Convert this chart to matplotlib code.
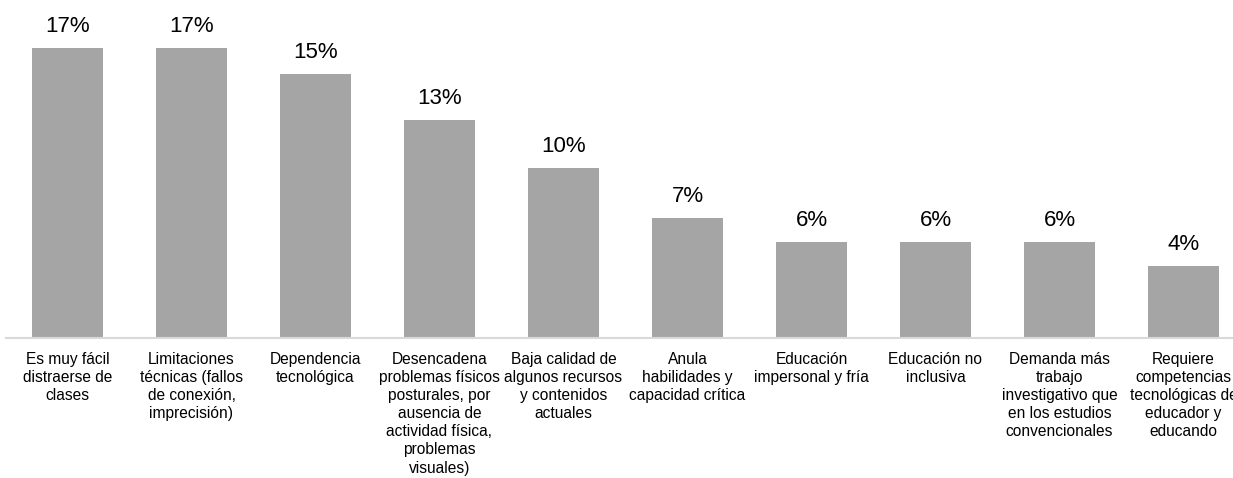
import matplotlib
matplotlib.use('Agg')
import matplotlib.pyplot as plt

plt.rcParams['font.family'] = ['Liberation Sans', 'DejaVu Sans']

# Categorías (texto con los saltos de línea del original)
categorias = [
    "Es muy fácil\ndistraerse de\nclases",
    "Limitaciones\ntécnicas (fallos\nde conexión,\nimprecisión)",
    "Dependencia\ntecnológica",
    "Desencadena\nproblemas físicos\nposturales, por\nausencia de\nactividad física,\nproblemas\nvisuales)",
    "Baja calidad de\nalgunos recursos\ny contenidos\nactuales",
    "Anula\nhabilidades y\ncapacidad crítica",
    "Educación\nimpersonal y fría",
    "Educación no\ninclusiva",
    "Demanda más\ntrabajo\ninvestigativo que\nen los estudios\nconvencionales",
    "Requiere\ncompetencias\ntecnológicas de\neducador y\neducando",
]
# Porcentajes estimados a partir de la altura de las barras
porcentajes = [16.9, 16.9, 15.4, 12.7, 9.9, 7.0, 5.6, 5.6, 5.6, 4.2]

fig = plt.figure(figsize=(12.33, 4.78), dpi=100)
# el eje sobresale un poco por la derecha, como en el original
ax = fig.add_axes([5.5 / 1233, 140 / 478, 1240 / 1233, 309 / 478])

x = range(len(categorias))
barras = ax.bar(x, porcentajes, width=0.57, color='#A5A5A5')
ax.bar_label(barras, labels=[f'{v:.0f}%' for v in porcentajes],
             padding=8, fontsize=16, color='#000000')

ax.set_xlim(-0.5, len(categorias) - 0.5)
ax.set_ylim(0, 18)
ax.set_xticks(list(x), labels=categorias, fontsize=11.2, linespacing=1.26)
ax.tick_params(axis='x', length=0, pad=10, colors='#000000')
ax.set_yticks([])

ax.spines[['top', 'right', 'left']].set_visible(False)
ax.spines['bottom'].set_color('#D9D9D9')
ax.spines['bottom'].set_linewidth(1.5)

fig.savefig('out.png', dpi=100)
